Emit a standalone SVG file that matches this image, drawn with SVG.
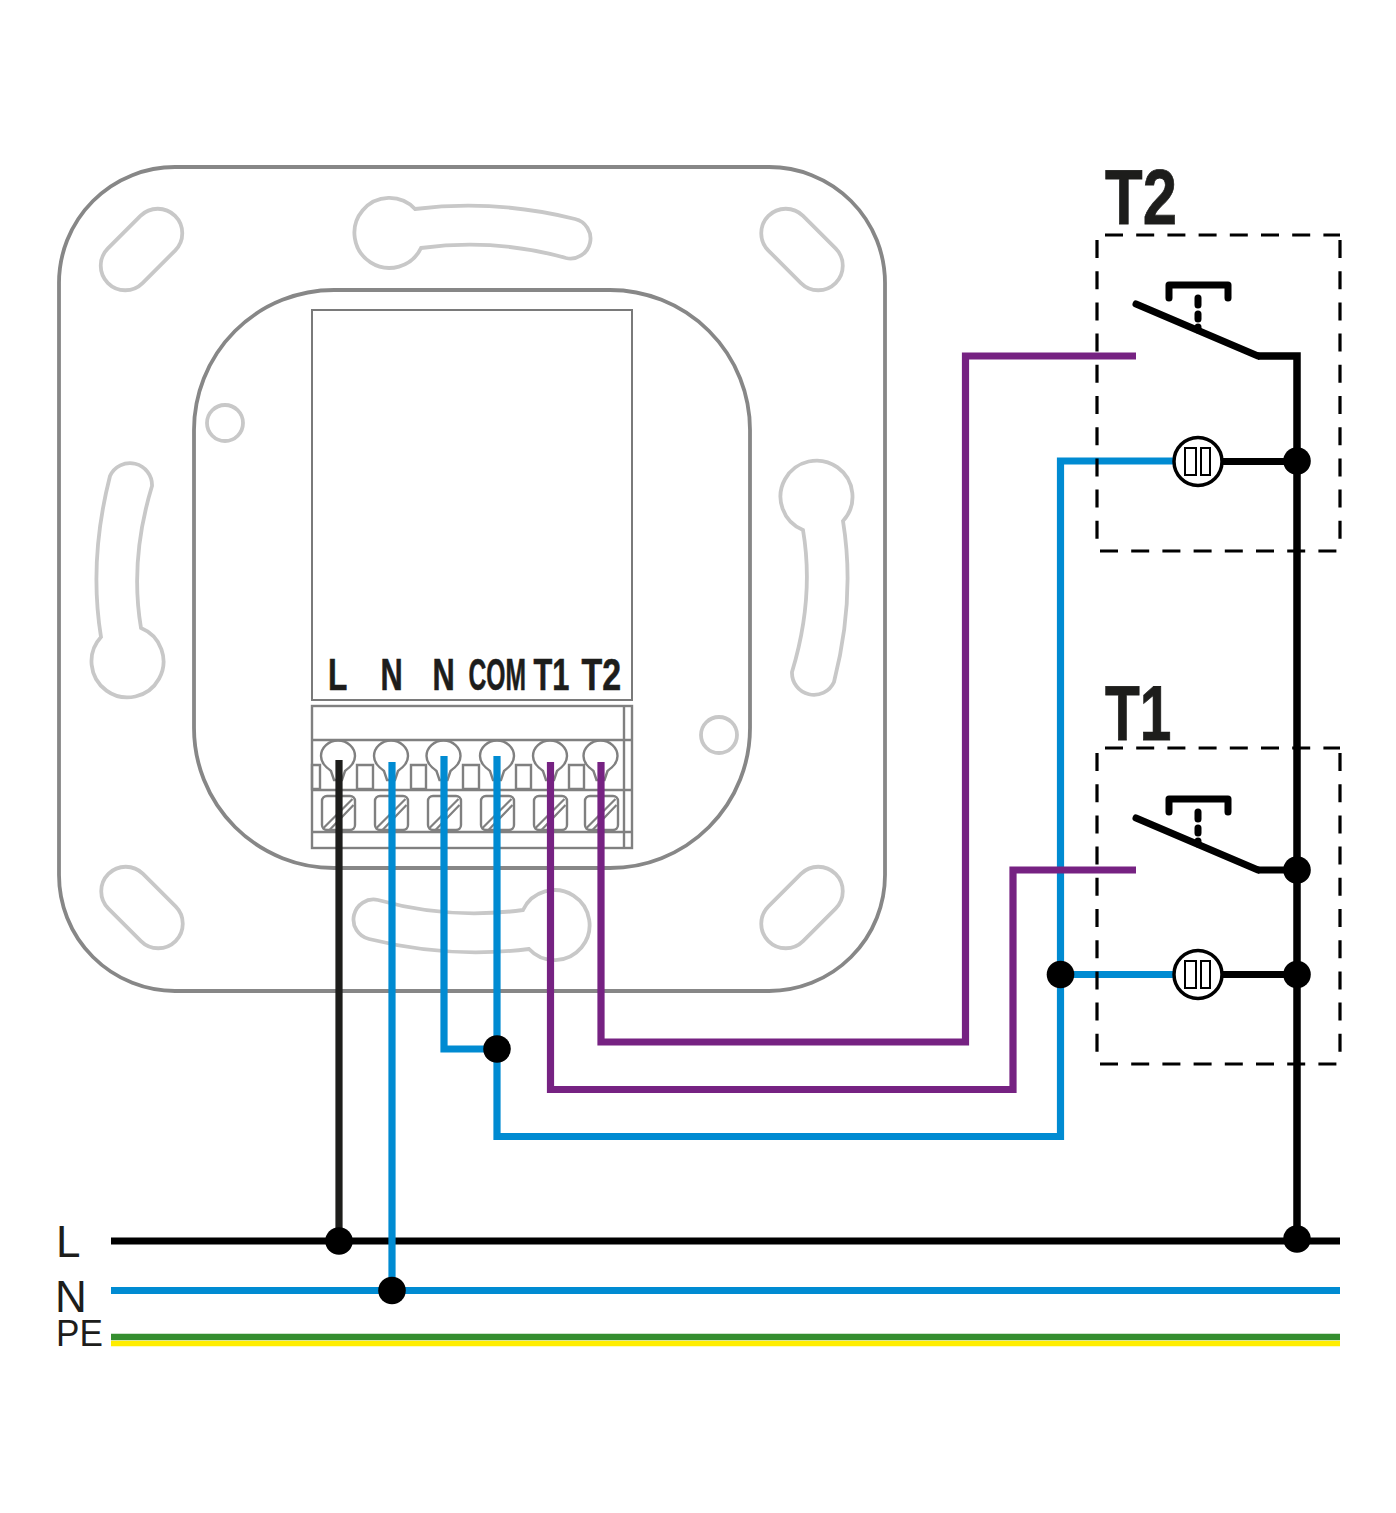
<svg xmlns="http://www.w3.org/2000/svg" width="1396" height="1513" viewBox="0 0 1396 1513">
<style>
.body{fill:none;stroke:#878787;stroke-width:3.8}
.thin{fill:none;stroke:#7a7a7a;stroke-width:2}
.hole{fill:none;stroke:#c8c8c8;stroke-width:3.8}
.term{fill:none;stroke:#808080;stroke-width:2.400}
.hatch{fill:none;stroke:#808080;stroke-width:2.200}
.w{fill:none;stroke-width:7.200;stroke-linejoin:miter}
.bk{stroke:#000}.lb{stroke:#1d1d1b}.bl{stroke:#008bd2}.pu{stroke:#762282}
.dot{fill:#000}
.dash{fill:none;stroke:#000;stroke-width:3.200;stroke-dasharray:18 13.200}
.lamp{fill:#fff;stroke:#000;stroke-width:3.500}
.sq{fill:#fff;stroke:#000;stroke-width:2}
.sw{fill:none;stroke:#000;stroke-width:7;stroke-linecap:round;stroke-linejoin:round}
.st{fill:none;stroke:#000;stroke-width:7;stroke-linecap:round}
.tl{font-family:"Liberation Sans",Arial,sans-serif;font-weight:700;fill:#1d1d1b;stroke:#1d1d1b;stroke-width:.6;font-size:44px}
.big{font-family:"Liberation Sans",Arial,sans-serif;font-weight:700;fill:#1d1d1b;stroke:#1d1d1b;stroke-width:.8;font-size:78px}
.bus{font-family:"Liberation Sans",Arial,sans-serif;fill:#1d1d1b;font-size:44px}
</style>
<defs>
<path id="kh" d="M415,209Q495,199 575,219A20,20 0 0 1 566,258Q495,238 421,248A35,35 0 1 1 415,209Z"/>
<path id="kv" d="M101,637Q88.500,560 110,476A22,22 0 0 1 152,486Q129.500,560 141,628A36,36 0 1 1 101,637Z"/>
<rect id="slot" x="-47.500" y="-24.500" width="95" height="49" rx="24.500"/>
<rect id="screw" x="-16.500" y="-17" width="33" height="34" rx="5"/>
<path id="hat" d="M-15,15L14,-14M-9,17L15,-8"/>
<path id="bulb" d="M-7,14C-12,10 -17,6 -17,-1A17,15.500 0 1 1 17,-1C17,6 12,10 7,14L4,23H-4Z"/>
</defs>
<g id="housing">
<rect class="body" x="59" y="167" width="826" height="824" rx="116"/>
<rect class="body" x="194" y="290" width="556" height="578" rx="140"/>
<rect class="thin" x="312" y="310" width="320" height="390"/>
<use href="#kh" class="hole"/>
<use href="#kh" class="hole" transform="rotate(180 472 579)"/>
<use href="#kv" class="hole"/>
<use href="#kv" class="hole" transform="rotate(180 472 579)"/>
<use href="#slot" class="hole" transform="translate(141.500 249.500) rotate(-45)"/>
<use href="#slot" class="hole" transform="translate(802 249.500) rotate(45)"/>
<use href="#slot" class="hole" transform="translate(142 907.500) rotate(45)"/>
<use href="#slot" class="hole" transform="translate(802 907.500) rotate(-45)"/>
<circle class="hole" cx="225" cy="423" r="18"/>
<circle class="hole" cx="719" cy="735" r="18"/>
</g>
<g id="terminal">
<rect class="term" x="312" y="706" width="320" height="142"/>
<path class="term" d="M624,706V848M312,740H632M312,790H632M312,832H632"/>
<path class="term" d="M312,765H320V789H312ZM357,765H373V789H357ZM411,765H426V789H411ZM463,765H479V789H463ZM516,765H531V789H516ZM569,765H584V789H569Z"/>
<use href="#bulb" class="term" x="338" y="757"/>
<use href="#bulb" class="term" x="391" y="757"/>
<use href="#bulb" class="term" x="443.500" y="757"/>
<use href="#bulb" class="term" x="497" y="757"/>
<use href="#bulb" class="term" x="550" y="757"/>
<use href="#bulb" class="term" x="600.500" y="757"/>
<use href="#screw" class="term" x="338.500" y="813"/>
<use href="#screw" class="term" x="391.500" y="813"/>
<use href="#screw" class="term" x="444.500" y="813"/>
<use href="#screw" class="term" x="497.500" y="813"/>
<use href="#screw" class="term" x="550.500" y="813"/>
<use href="#screw" class="term" x="601.500" y="813"/>
<use href="#hat" class="hatch" x="338.500" y="813"/>
<use href="#hat" class="hatch" x="391.500" y="813"/>
<use href="#hat" class="hatch" x="444.500" y="813"/>
<use href="#hat" class="hatch" x="497.500" y="813"/>
<use href="#hat" class="hatch" x="550.500" y="813"/>
<use href="#hat" class="hatch" x="601.500" y="813"/>
<text class="tl" transform="translate(328 689.500) scale(.72 1)">L</text>
<text class="tl" transform="translate(380.500 689.500) scale(.7 1)">N</text>
<text class="tl" transform="translate(432.500 689.500) scale(.7 1)">N</text>
<text class="tl" transform="translate(468.500 689.500) scale(.56 1)">COM</text>
<text class="tl" transform="translate(533.500 689.500) scale(.7 1)">T1</text>
<text class="tl" transform="translate(581.500 689.500) scale(.77 1)">T2</text>
</g>
<g id="connectors">
<path class="w bk" d="M111,1241H1340"/>
<path class="w bl" d="M111,1290.500H1340"/>
<path d="M111,1337H1340" fill="none" stroke="#358e2f" stroke-width="6.500"/>
<path d="M111,1343.500H1340" fill="none" stroke="#ffed00" stroke-width="5.500"/>
<path class="w lb" d="M339,760V1241"/>
<path class="w bl" d="M392,762V1290"/>
<path class="w bl" d="M444,756V1049H497"/>
<path class="w bl" d="M497,756V1136.500H1060.500V461H1175"/>
<path class="w bl" d="M1060.500,974.500H1175"/>
<path class="w pu" d="M550.500,762V1089.500H1013V870H1136"/>
<path class="w pu" d="M601,762V1042H965.500V356H1136"/>
<path class="w bk" style="stroke-width:7.500" d="M1258,356H1297V1241"/>
<path class="w bk" d="M1222,461.500H1297M1222,974.500H1297M1258,870H1297"/>
</g>
<g id="T2">
<text class="big" transform="translate(1105 224) scale(.79 1)">T2</text>
<path class="dash" d="M1105,235H1340M1097,240V551M1340,240V551M1100,551H1340"/>
<path class="sw" d="M1136,304L1258,356"/>
<path class="sw" d="M1169,298V285H1228V298"/>
<path class="st" d="M1198,298V305M1198,314V319M1198,327V330"/>
<circle class="lamp" cx="1198" cy="461.500" r="24"/>
<rect class="sq" x="1185" y="448" width="11" height="27"/>
<rect class="sq" x="1201" y="448" width="9" height="27"/>
</g>
<g id="T1">
<text class="big" transform="translate(1105 740) scale(.73 1)">T1</text>
<path class="dash" d="M1105,748H1340M1097,753V1064M1340,753V1064M1100,1064H1340"/>
<path class="sw" d="M1136,818L1258,870"/>
<path class="sw" d="M1169,812V799H1228V812"/>
<path class="st" d="M1198,812V819M1198,828V833M1198,841V844"/>
<circle class="lamp" cx="1198" cy="974.500" r="24"/>
<rect class="sq" x="1185" y="961" width="11" height="27"/>
<rect class="sq" x="1201" y="961" width="9" height="27"/>
</g>
<g id="junctions">
<circle class="dot" cx="1297" cy="461" r="13.800"/>
<circle class="dot" cx="1297" cy="870" r="13.800"/>
<circle class="dot" cx="1297" cy="974.500" r="13.800"/>
<circle class="dot" cx="1060.500" cy="974.500" r="13.800"/>
<circle class="dot" cx="1297" cy="1239" r="13.800"/>
<circle class="dot" cx="339" cy="1241" r="13.800"/>
<circle class="dot" cx="392" cy="1290.500" r="13.800"/>
<circle class="dot" cx="497" cy="1049" r="13.800"/>
</g>
<g id="bus-labels">
<text class="bus" x="56" y="1257">L</text>
<text class="bus" x="55" y="1312">N</text>
<text class="bus" transform="translate(56 1346) scale(.95 1)" style="font-size:37px">PE</text>
</g>
</svg>
